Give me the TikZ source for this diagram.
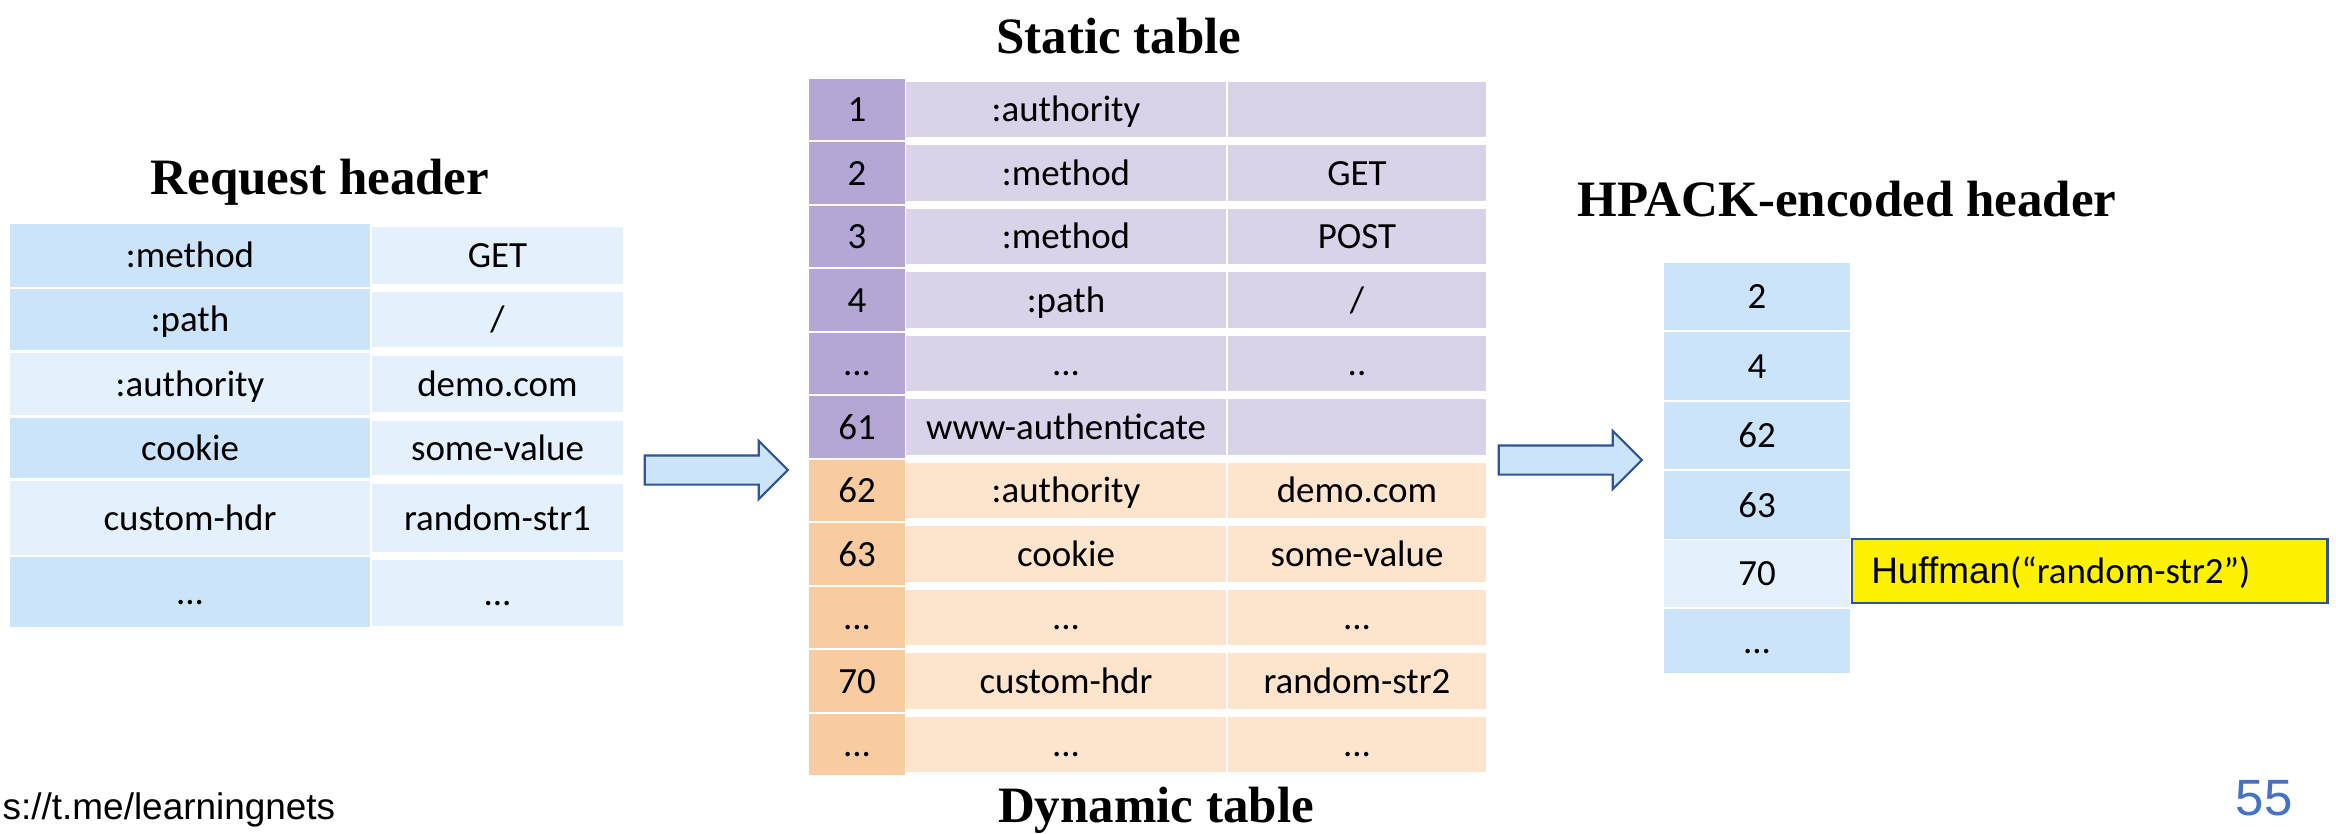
\documentclass[tikz,border=0pt]{standalone}
\usepackage{fontspec}
\setmainfont{Carlito}
\newfontfamily\headfont{Liberation Serif}
\newfontfamily\arialfont{Liberation Sans}
\usepackage{tikz}
\usetikzlibrary{shapes.arrows, positioning}
\definecolor{reqdark}{HTML}{CCE4FA}
\definecolor{reqlight}{HTML}{E4F0FC}
\definecolor{statidx}{HTML}{B4A7D6}
\definecolor{statcell}{HTML}{D9D2E9}
\definecolor{dynidx}{HTML}{F8CBA0}
\definecolor{dyncell}{HTML}{FCE4CD}
\definecolor{edgeblue}{HTML}{2F5597}
\definecolor{pageblue}{HTML}{4472C4}

\begin{document}
\begin{tikzpicture}[x=0.01cm, y=-0.01cm,
    cell/.style   = {rectangle, inner sep=0pt, text height=.75em, text depth=.05em,
                     font=\fontsize{10.5}{12.6}\selectfont},
    hkey/.style   = {cell, minimum width=3.6cm},
    hval/.style   = {cell, fill=reqlight, minimum width=2.51cm},
    sidx/.style   = {cell, fill=statidx,  minimum width=.96cm, minimum height=.61cm},
    didx/.style   = {cell, fill=dynidx,   minimum width=.96cm, minimum height=.61cm},
    sname/.style  = {cell, fill=statcell, minimum width=3.2cm,  minimum height=.55cm},
    sval/.style   = {cell, fill=statcell, minimum width=2.58cm, minimum height=.55cm},
    dname/.style  = {cell, fill=dyncell,  minimum width=3.2cm,  minimum height=.55cm},
    dval/.style   = {cell, fill=dyncell,  minimum width=2.58cm, minimum height=.55cm},
    enc/.style    = {cell, fill=reqdark,  minimum width=1.86cm, minimum height=.67cm},
    ttl/.style    = {anchor=base, inner sep=0pt,
                     font=\headfont\bfseries\fontsize{14.5}{17}\selectfont},
    bigarr/.style = {single arrow, draw=edgeblue, fill=reqdark, line width=.6pt,
                     minimum width=.56cm, minimum height=1.43cm,
                     inner xsep=0pt, inner ysep=.135cm,
                     single arrow head extend=.145cm}
  ]
  \path[use as bounding box, fill=white] (0,0) rectangle (2336,833);

  % Request header
  \node[ttl] (reqtitle) at (320,194) {Request header};
  \node[hkey, fill=reqdark,  minimum height=.63cm] (key1) at (190,255.5) {:method};
  \node[hkey, fill=reqdark,  minimum height=.61cm] (key2) at (190,319.5) {:path};
  \node[hkey, fill=reqlight, minimum height=.62cm] (key3) at (190,384)   {:authority};
  \node[hkey, fill=reqdark,  minimum height=.60cm] (key4) at (190,448)   {cookie};
  \node[hkey, fill=reqlight, minimum height=.74cm] (key5) at (190,518)   {custom-hdr};
  \node[hkey, fill=reqdark,  minimum height=.70cm] (key6) at (190,592)   {...};
  \node[hval, minimum height=.57cm] (val1) at (497.5,255.5) {GET};
  \node[hval, minimum height=.55cm] (val2) at (497.5,319.5) {/};
  \node[hval, minimum height=.56cm] (val3) at (497.5,384)   {demo.com};
  \node[hval, minimum height=.54cm] (val4) at (497.5,448)   {some-value};
  \node[hval, minimum height=.68cm] (val5) at (497.5,518)   {random-str1};
  \node[hval, minimum height=.66cm] (val6) at (497.5,593)   {...};

  % Static and dynamic table
  \node[ttl] (stattitle) at (1119,53)  {Static table};
  \node[ttl] (dyntitle)  at (1156,822) {Dynamic table};
  \node[sidx] (idx1)  at (857,109.5) {1};
  \node[sidx] (idx2)  at (857,173)   {2};
  \node[sidx] (idx3)  at (857,236.5) {3};
  \node[sidx] (idx4)  at (857,300)   {4};
  \node[sidx] (idx5)  at (857,363.5) {...};
  \node[sidx] (idx6)  at (857,427)   {61};
  \node[didx] (idx7)  at (857,490.5) {62};
  \node[didx] (idx8)  at (857,554)   {63};
  \node[didx] (idx9)  at (857,617.5) {...};
  \node[didx] (idx10) at (857,681)   {70};
  \node[didx] (idx11) at (857,744.5) {...};
  \node[sname] (name1)  at (1066,109.5) {:authority};
  \node[sname] (name2)  at (1066,173)   {:method};
  \node[sname] (name3)  at (1066,236.5) {:method};
  \node[sname] (name4)  at (1066,300)   {:path};
  \node[sname] (name5)  at (1066,363.5) {...};
  \node[sname] (name6)  at (1066,427)   {www-authenticate};
  \node[dname] (name7)  at (1066,490.5) {:authority};
  \node[dname] (name8)  at (1066,554)   {cookie};
  \node[dname] (name9)  at (1066,617.5) {...};
  \node[dname] (name10) at (1066,681)   {custom-hdr};
  \node[dname] (name11) at (1066,744.5) {...};
  \node[sval] (entry1)  at (1357,109.5) {};
  \node[sval] (entry2)  at (1357,173)   {GET};
  \node[sval] (entry3)  at (1357,236.5) {POST};
  \node[sval] (entry4)  at (1357,300)   {/};
  \node[sval] (entry5)  at (1357,363.5) {..};
  \node[sval] (entry6)  at (1357,427)   {};
  \node[dval] (entry7)  at (1357,490.5) {demo.com};
  \node[dval] (entry8)  at (1357,554)   {some-value};
  \node[dval] (entry9)  at (1357,617.5) {...};
  \node[dval] (entry10) at (1357,681)   {random-str2};
  \node[dval] (entry11) at (1357,744.5) {...};

  % HPACK-encoded header
  \node[ttl] (enctitle) at (1847,216) {HPACK-encoded header};
  \node[enc] (enc1) at (1757,296.5) {2};
  \node[enc] (enc2) at (1757,366)   {4};
  \node[enc] (enc3) at (1757,435.5) {62};
  \node[enc] (enc4) at (1757,505)   {63};
  \node[enc, fill=reqlight] (enc5) at (1757,573.5) {70};
  \node[enc, minimum height=.64cm] (enc6) at (1757,641) {...};
  \node[cell, anchor=west, fill=yellow, draw=edgeblue, line width=.7pt,
        minimum width=4.75cm, minimum height=.64cm, inner xsep=.19cm,
        text width=4.37cm, align=left] (huff) at (1851,571)
    {{\arialfont Huffman}(“random-str2”)};

  % Arrows
  \node[bigarr] (arrowA) at (709,470)  {};
  \node[bigarr] (arrowB) at (1563,460) {};

  % Footer
  \node[anchor=base west, inner sep=0pt, font=\arialfont\fontsize{10.5}{12.6}\selectfont]
    (link) at (2,819) {s://t.me/learningnets};
  \node[anchor=base west, inner sep=0pt, text=pageblue,
        font=\arialfont\fontsize{14.5}{17}\selectfont] (pagenum) at (2235,815) {55};
\end{tikzpicture}
\end{document}
